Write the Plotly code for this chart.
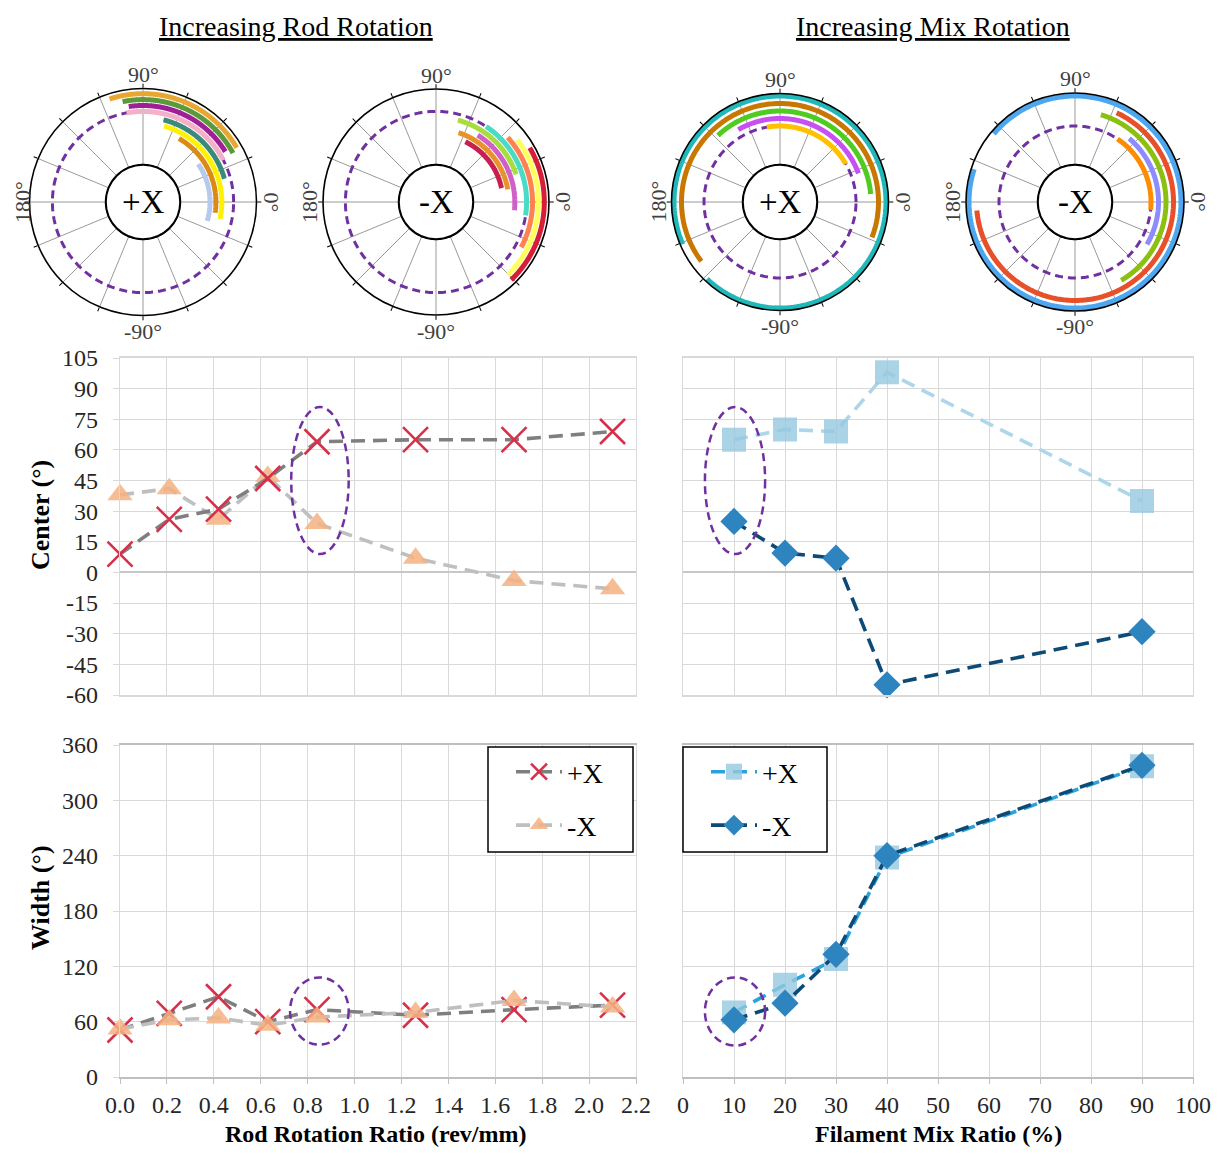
import numpy as np
import plotly.graph_objects as go

# page is 1222x1158; the figure sits inside the page body (8px default margin)
PAGE_W, PAGE_H = 1222, 1158
OFF = 8
W, H = PAGE_W - 2 * OFF, PAGE_H - 2 * OFF
SERIF = "Liberation Serif, Times New Roman, serif"

# ---------------- data ----------------
rod_ratio = [0.0, 0.21, 0.42, 0.63, 0.84, 1.26, 1.68, 2.10]
rod_plus_center = [9, 26, 31, 46, 64, 65, 65, 69]
rod_minus_center = [38, 41, 26, 47, 24, 7, -4, -8]
rod_plus_width = [51, 69, 87, 60, 73, 67, 73, 78]
rod_minus_width = [52, 62, 64, 56, 65, 70, 83, 76]

mix_ratio = [10, 20, 30, 40, 90]
mix_plus_center = [65, 70, 69, 98, 35]
mix_minus_center = [25, 9.5, 7, -55, -29]
mix_plus_width = [70, 100, 128, 238, 337]
mix_minus_width = [62, 80, 133, 240, 338]

rod_ticks = [0.0, 0.2, 0.4, 0.6, 0.8, 1.0, 1.2, 1.4, 1.6, 1.8, 2.0, 2.2]
rod_tick_text = ["0.0", "0.2", "0.4", "0.6", "0.8", "1.0", "1.2", "1.4", "1.6", "1.8", "2.0", "2.2"]
mix_ticks = [0, 10, 20, 30, 40, 50, 60, 70, 80, 90, 100]
mix_tick_text = ["0", "10", "20", "30", "40", "50", "60", "70", "80", "90", "100"]
center_ticks = [-60, -45, -30, -15, 0, 15, 30, 45, 60, 75, 90, 105]
center_tick_text = ["-60", "-45", "-30", "-15", "0", "15", "30", "45", "60", "75", "90", "105"]
width_ticks = [0, 60, 120, 180, 240, 300, 360]
width_tick_text = ["0", "60", "120", "180", "240", "300", "360"]

rod_plus_arc_colors = ["#B6CAEE", "#DC8A14", "#FFF200", "#3A8A7A", "#F4B0C8", "#9E1F96", "#5B9A3A", "#E8A730"]
rod_minus_arc_colors = ["#C8204E", "#E8922A", "#D060C8", "#A8DD40", "#48DCC8", "#FF8050", "#FFFF60", "#D61E38"]
mix_plus_arc_colors = ["#FFC000", "#C850F0", "#50CC20", "#C87800", "#20B8B8"]
mix_minus_arc_colors = ["#FF8C00", "#8C8CFF", "#8CC010", "#E8502A", "#4CA6F0"]

titles = ["Increasing Rod Rotation", "Increasing Mix Rotation"]
polar_labels = ["+X", "-X", "+X", "-X"]

HIGHLIGHT = "#7030A0"

def pxx(x):
    return (x - OFF) / W

def pyy(y):
    return 1 - (y - OFF) / H

def note(x, y, text, font, angle=0):
    return dict(x=pxx(x), y=pyy(y), xref="paper", yref="paper", text=text, showarrow=False,
                xanchor="center", yanchor="middle", font=font, textangle=angle)

fig = go.Figure()
annotations = []
shapes = []

# ---------------- polar ring charts ----------------
polars = [
    dict(cx=143, cy=202, R=113.5, c=rod_plus_center, w=rod_plus_width, col=rod_plus_arc_colors, r0=67, dr=5.9, hl=4),
    dict(cx=436, cy=202, R=113, c=rod_minus_center, w=rod_minus_width, col=rod_minus_arc_colors, r0=67, dr=5.9, hl=4),
    dict(cx=780, cy=202, R=108.5, c=mix_plus_center, w=mix_plus_width, col=mix_plus_arc_colors, r0=76, dr=7.5, hl=0),
    dict(cx=1075, cy=202, R=109, c=mix_minus_center, w=mix_minus_width, col=mix_minus_arc_colors, r0=76, dr=7.5, hl=0),
]
HOLE = 37
full = np.arange(0, 361, 1.0)
layout_polars = {}
for k, p in enumerate(polars):
    key = "polar" if k == 0 else f"polar{k+1}"
    cx, cy, R = p["cx"], p["cy"], p["R"]
    layout_polars[key] = dict(
        domain=dict(x=[pxx(cx - R), pxx(cx + R)], y=[pyy(cy + R), pyy(cy - R)]),
        hole=HOLE / R,
        bgcolor="white",
        radialaxis=dict(range=[HOLE, R], visible=False, showgrid=False),
        angularaxis=dict(rotation=0, direction="counterclockwise", tickmode="linear", tick0=0, dtick=22.5,
                         showticklabels=False, ticks="outside", ticklen=4, tickcolor="black", tickwidth=1,
                         showline=True, linecolor="black", linewidth=1.6,
                         showgrid=True, gridcolor="#9A9A9A", gridwidth=1.4),
    )
    sub = key
    rhl = p["r0"] + p["dr"] * p["hl"]
    fig.add_trace(go.Scatterpolar(r=[rhl] * len(full), theta=full, mode="lines", subplot=sub,
                                  line=dict(color=HIGHLIGHT, width=3, dash="8px,5px"),
                                  showlegend=False, hoverinfo="skip"))
    for i, (c, w) in enumerate(zip(p["c"], p["w"])):
        th = np.linspace(c - w / 2, c + w / 2, 200)
        fig.add_trace(go.Scatterpolar(r=[p["r0"] + p["dr"] * i] * len(th), theta=th, mode="lines",
                                      subplot=sub, line=dict(color=p["col"][i], width=5),
                                      showlegend=False, hoverinfo="skip"))
    fig.add_trace(go.Scatterpolar(r=[HOLE + 0.3] * len(full), theta=full, mode="lines", subplot=sub,
                                  line=dict(color="black", width=1.8), showlegend=False, hoverinfo="skip"))
    annotations.append(note(cx, cy, polar_labels[k], dict(family=SERIF, size=33, color="black")))
    off = R + 16
    lf = dict(family=SERIF, size=22, color="#404040")
    annotations.append(note(cx, cy - off + 2, "90°", lf))
    annotations.append(note(cx, cy + off, "-90°", lf))
    annotations.append(note(max(cx - off + 3, 23), cy, "180°", lf, -90))
    annotations.append(note(cx + off - 2, cy, "0°", lf, 90))

# titles
annotations.append(note(296, 27, "<u>" + titles[0] + "</u>", dict(family=SERIF, size=28, color="black")))
annotations.append(note(933, 27, "<u>" + titles[1] + "</u>", dict(family=SERIF, size=28, color="black")))

# ---------------- line charts ----------------
dash = "14px,8px"
GRID = "#D9D9D9"
x_mark = dict(symbol="x-thin-open", size=25, color="#D5314A", line=dict(width=2.6, color="#D5314A"))
tri_mark = dict(symbol="triangle-up", size=22, color="rgba(244,177,131,0.85)")
sq_mark = dict(symbol="square", size=24, color="rgba(150,200,224,0.8)")
dia_mark = dict(symbol="diamond", size=21, color="#2E84BF")

def line_trace(x, y, xa, ya, color, marker, name=None, legend=None, group=None):
    return go.Scatter(x=x, y=y, mode="lines+markers", xaxis=xa, yaxis=ya, cliponaxis=False,
                      line=dict(color=color, width=3.6, dash=dash), marker=marker,
                      name=name, legend=legend, legendgroup=group, showlegend=name is not None)

fig.add_trace(line_trace(rod_ratio, rod_minus_center, "x", "y", "#BFBFBF", tri_mark))
fig.add_trace(line_trace(rod_ratio, rod_plus_center, "x", "y", "#7F7F7F", x_mark))
fig.add_trace(line_trace(mix_ratio, mix_plus_center, "x2", "y2", "#AED6EA", sq_mark))
fig.add_trace(line_trace(mix_ratio, mix_minus_center, "x2", "y2", "#0D4A76", dia_mark))
fig.add_trace(line_trace(rod_ratio, rod_plus_width, "x3", "y3", "#7F7F7F", x_mark, "+X", "legend", "a"))
fig.add_trace(line_trace(rod_ratio, rod_minus_width, "x3", "y3", "#BFBFBF", tri_mark, "-X", "legend", "b"))
fig.add_trace(line_trace(mix_ratio, mix_plus_width, "x4", "y4", "#2AA3DC", sq_mark, "+X", "legend2", "c"))
fig.add_trace(line_trace(mix_ratio, mix_minus_width, "x4", "y4", "#0D4A76", dia_mark, "-X", "legend2", "d"))

tickfont = dict(family=SERIF, size=24, color="#262626")
LX = [pxx(120), pxx(636)]
RX = [pxx(683), pxx(1193)]
TY = [pyy(695), pyy(358)]
BY = [pyy(1077), pyy(745)]

def xax(dom, rng, tv, tt, labels, anchor, bottom):
    return dict(domain=dom, range=rng, tickmode="array", tickvals=tv, ticktext=tt, showticklabels=labels,
                anchor=anchor, showgrid=True, gridcolor=GRID, gridwidth=1.3, zeroline=False, automargin=False,
                showline=True, mirror=True, linecolor="#BFBFBF" if bottom else GRID, linewidth=1.5,
                ticks="outside" if bottom else "", ticklen=5, tickcolor="#BFBFBF",
                tickfont=tickfont, ticklabelstandoff=0, fixedrange=True)

def yax(dom, rng, tv, tt, labels, anchor, zero):
    return dict(domain=dom, range=rng, tickmode="array", tickvals=tv, ticktext=tt, showticklabels=labels,
                anchor=anchor, showgrid=True, gridcolor=GRID, gridwidth=1.3, automargin=False,
                zeroline=zero, zerolinecolor="#C8C8C8", zerolinewidth=2.2,
                showline=True, mirror=True, linecolor=GRID, linewidth=1.3,
                ticks="outside" if labels else "", ticklen=6, tickcolor=GRID,
                tickfont=tickfont, ticklabelstandoff=10, fixedrange=True)

legfont = dict(family=SERIF, size=28, color="black")
layout = dict(
    template="none",
    width=W, height=H, margin=dict(l=0, r=0, t=0, b=0, pad=0, autoexpand=False),
    paper_bgcolor="white", plot_bgcolor="white",
    xaxis=xax(LX, [0, 2.2], rod_ticks, rod_tick_text, False, "y", False),
    yaxis=yax(TY, [-60, 105], center_ticks, center_tick_text, True, "x", True),
    xaxis2=xax(RX, [0, 100], mix_ticks, mix_tick_text, False, "y2", False),
    yaxis2=yax(TY, [-60, 105], center_ticks, center_tick_text, False, "x2", True),
    xaxis3=xax(LX, [0, 2.2], rod_ticks, rod_tick_text, True, "y3", True),
    yaxis3=yax(BY, [0, 360], width_ticks, width_tick_text, True, "x3", False),
    xaxis4=xax(RX, [0, 100], mix_ticks, mix_tick_text, True, "y4", True),
    yaxis4=yax(BY, [0, 360], width_ticks, width_tick_text, False, "x4", False),
    legend=dict(x=pxx(511), y=pyy(747), xanchor="left", yanchor="top", bgcolor="rgba(0,0,0,0)",
                borderwidth=0, font=legfont, tracegroupgap=14, itemwidth=46),
    legend2=dict(x=pxx(706), y=pyy(747), xanchor="left", yanchor="top", bgcolor="rgba(0,0,0,0)",
                 borderwidth=0, font=legfont, tracegroupgap=14, itemwidth=46),
    showlegend=True,
)
layout.update(layout_polars)

shapes.append(dict(type="rect", xref="paper", yref="paper", x0=pxx(488), x1=pxx(633), y0=pyy(852), y1=pyy(747),
                   line=dict(color="black", width=1.5), fillcolor="white", layer="above"))
shapes.append(dict(type="rect", xref="paper", yref="paper", x0=pxx(683), x1=pxx(827), y0=pyy(852), y1=pyy(747),
                   line=dict(color="black", width=1.5), fillcolor="white", layer="above"))

hl = dict(color=HIGHLIGHT, width=2.5, dash="8px,5px")
shapes.append(dict(type="circle", xref="x", yref="y", x0=0.73, x1=0.975, y0=9, y1=81, line=hl))
shapes.append(dict(type="circle", xref="x2", yref="y2", x0=4.3, x1=16.1, y0=9, y1=81, line=hl))
shapes.append(dict(type="circle", xref="x3", yref="y3", x0=0.725, x1=0.975, y0=35, y1=108, line=hl))
shapes.append(dict(type="circle", xref="x4", yref="y4", x0=4.3, x1=16.1, y0=34, y1=108, line=hl))

bold = dict(family=SERIF, size=26, color="black")
xbold = dict(family=SERIF, size=24, color="black")
annotations.append(note(40, 515, "<b>Center (°)</b>", bold, -90))
annotations.append(note(40, 898, "<b>Width (°)</b>", bold, -90))
annotations.append(note(376, 1134, "<b>Rod Rotation Ratio (rev/mm)</b>", xbold))
annotations.append(note(938, 1134, "<b>Filament Mix Ratio (%)</b>", xbold))

layout["annotations"] = annotations
layout["shapes"] = shapes
fig.update_layout(**layout)
fig.write_html("out.html")
